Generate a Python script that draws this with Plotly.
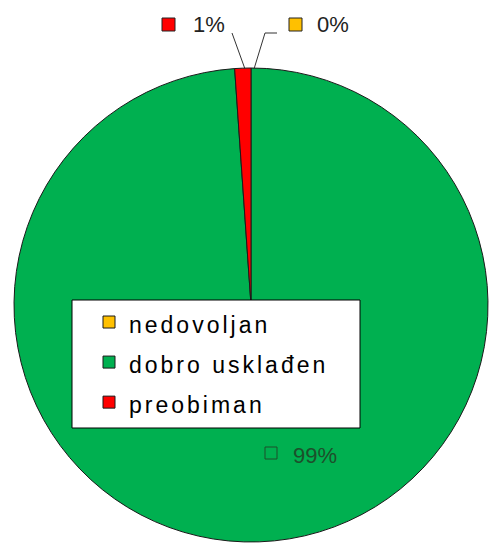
import plotly.graph_objects as go

categories = ["nedovoljan", "dobro usklađen", "preobiman"]
values = [0, 98.9, 1.1]
colors = ["#FFC000", "#00B050", "#FF0000"]

W, H = 489, 544
total = sum(values)
pct = [f"{round(v / total * 100)}%" for v in values]


def px(x):
    return x / W


def py(y):
    return 1 - y / H


FONT = "Liberation Sans, Arial, sans-serif"

legend_names = [f"<span style='font-size:23px;letter-spacing:3px'>{c}</span>" for c in categories]

fig = go.Figure(
    go.Pie(
        labels=legend_names,
        values=values,
        sort=False,
        direction="clockwise",
        rotation=0,
        textinfo="none",
        marker=dict(colors=colors, line=dict(color="#1a1a1a", width=1)),
        domain=dict(x=[px(14), px(488)], y=[py(542), py(68)]),
        hoverinfo="label+percent",
    )
)

shapes = [
    # legend box
    dict(type="rect", xref="paper", yref="paper", x0=px(72), x1=px(360), y0=py(428), y1=py(300),
         fillcolor="white", line=dict(color="black", width=1), layer="above"),
    # label key squares
    dict(type="rect", xref="paper", yref="paper", x0=px(162), x1=px(175), y0=py(31), y1=py(18),
         fillcolor=colors[2], line=dict(color="#222", width=1)),
    dict(type="rect", xref="paper", yref="paper", x0=px(289), x1=px(302), y0=py(31), y1=py(18),
         fillcolor=colors[0], line=dict(color="#222", width=1)),
    dict(type="rect", xref="paper", yref="paper", x0=px(265), x1=px(277), y0=py(459), y1=py(447),
         fillcolor="rgba(0,0,0,0)", line=dict(color="#1d4f2b", width=1), layer="above"),
    # leader lines
    dict(type="path", xref="paper", yref="paper",
         path=f"M{px(232)},{py(33)} L{px(245)},{py(69)}", line=dict(color="#333", width=1)),
    dict(type="path", xref="paper", yref="paper",
         path=f"M{px(277)},{py(33)} L{px(265)},{py(33)} L{px(254)},{py(69)}", line=dict(color="#333", width=1)),
]

annotations = [
    dict(text=pct[2], x=px(191), y=py(25), xref="paper", yref="paper", xanchor="left", yanchor="middle",
         showarrow=False, font=dict(family=FONT, size=22, color="#222")),
    dict(text=pct[0], x=px(315), y=py(25), xref="paper", yref="paper", xanchor="left", yanchor="middle",
         showarrow=False, font=dict(family=FONT, size=22, color="#222")),
    dict(text=pct[1], x=px(291), y=py(455), xref="paper", yref="paper", xanchor="left", yanchor="middle",
         showarrow=False, font=dict(family=FONT, size=22, color="#1d4f2b")),
]

fig.update_layout(
    width=W,
    height=H,
    margin=dict(l=0, r=0, t=0, b=0),
    paper_bgcolor="white",
    plot_bgcolor="white",
    shapes=shapes,
    annotations=annotations,
    showlegend=True,
    legend=dict(
        x=px(89), y=py(297), xanchor="left", yanchor="top",
        bgcolor="rgba(0,0,0,0)", borderwidth=0,
        font=dict(family=FONT, size=28.5, color="#000"),
        traceorder="normal",
    ),
)

fig.write_html("out.html", config={"displayModeBar": False},
               post_script="document.body.style.margin='0';")
